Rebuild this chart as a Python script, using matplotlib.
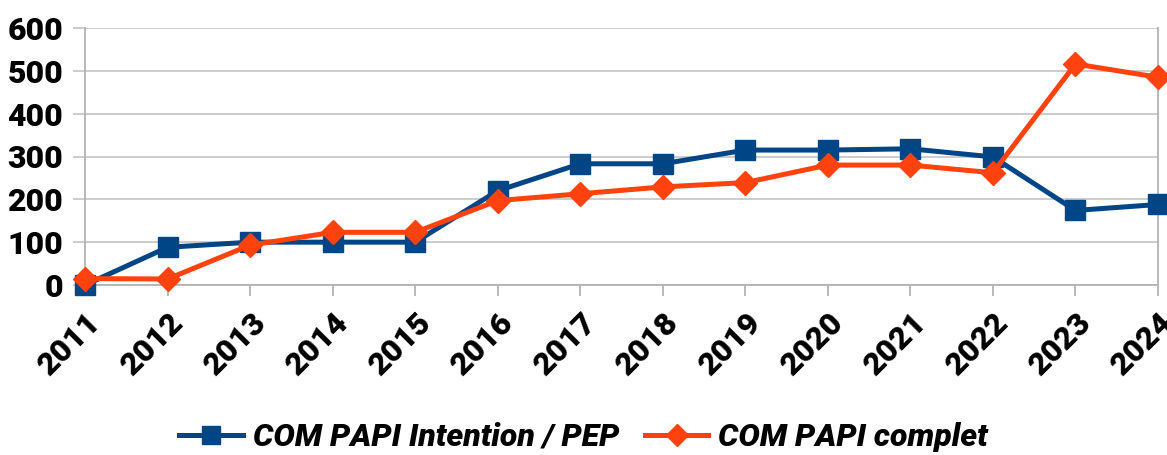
import matplotlib
matplotlib.use("Agg")
import matplotlib.pyplot as plt
from matplotlib.lines import Line2D

years = ["2011", "2012", "2013", "2014", "2015", "2016", "2017", "2018",
         "2019", "2020", "2021", "2022", "2023", "2024"]
intention_pep = [0, 88, 100, 100, 100, 220, 283, 283, 315, 315, 318, 299, 174, 188]
complet = [15, 14, 93, 123, 123, 197, 213, 229, 239, 280, 280, 262, 516, 485]

series_names = ["COM PAPI Intention / PEP", "COM PAPI complet"]
blue = "#004586"
orange = "#ff420e"

plt.rcParams['font.family'] = ['Roboto', 'DejaVu Sans']
FS = 23
W = 'black'

fig = plt.figure(figsize=(11.67, 4.55), dpi=100)
ax = fig.add_axes([85/1167, 1-285/455, (1158-85)/1167, (285-28)/455])

x = list(range(len(years)))
ax.plot(x, intention_pep, color=blue, lw=3.6, marker='s', ms=14, label=series_names[0], zorder=3, clip_on=False)
ax.plot(x, complet, color=orange, lw=3.6, marker='D', ms=12, label=series_names[1], zorder=4, clip_on=False)

ax.set_xlim(0, len(years) - 1)
ax.set_ylim(0, 600)
ax.set_yticks(range(0, 601, 100))
ax.set_xticks(x)
ax.set_xticklabels(years, rotation=45, ha='right', rotation_mode='anchor',
                   fontsize=FS, fontweight=W)
for lab in ax.get_yticklabels():
    lab.set_fontsize(FS)
    lab.set_fontweight(W)

ax.grid(axis='y', color='#c8c8c8', lw=1.3)
ax.set_axisbelow(True)
ax.spines['top'].set_visible(False)
for s in ['left', 'right', 'bottom']:
    ax.spines[s].set_color('#b3b3b3')
    ax.spines[s].set_linewidth(1.3)
ax.tick_params(axis='y', length=8.6, color='#c8c8c8', width=1.3, pad=7)
ax.tick_params(axis='x', length=8, color='#b3b3b3', width=1.3, pad=8)

handles = [Line2D([0], [0], color=blue, lw=3.6, marker='s', ms=13),
           Line2D([0], [0], color=orange, lw=3.6, marker='D', ms=11)]
fig.legend(handles, series_names, loc='center', bbox_to_anchor=(0.5, 1-437/455),
           ncol=2, frameon=False, prop={'size': FS, 'weight': W, 'style': 'italic'},
           handlelength=2.0, columnspacing=0.8, handletextpad=0.3)

fig.savefig("out.png", dpi=100)
